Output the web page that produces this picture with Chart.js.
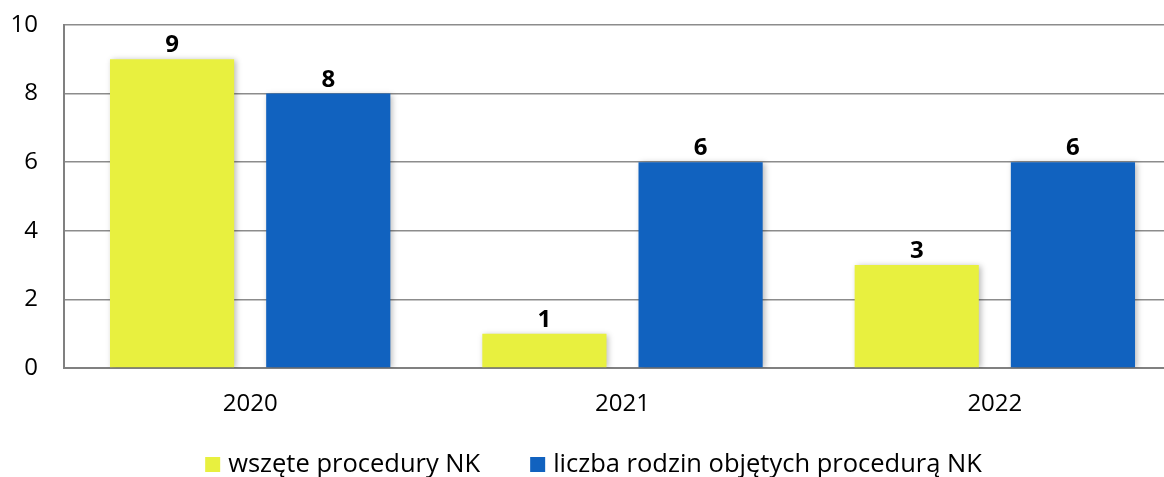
<!DOCTYPE html>
<html>
<head>
<meta charset="utf-8">
<script src="https://cdn.jsdelivr.net/npm/chart.js@4/dist/chart.umd.min.js"></script>
<style>
  html, body { margin: 0; padding: 0; background: #fff; overflow: hidden; }
  #wrap { width: 1164px; height: 477px; overflow: hidden; }
  #box { width: 1190px; height: 477px; position: relative; }
</style>
</head>
<body>
<div id="wrap"><div id="box"><canvas id="chart"></canvas></div></div>
<script>
const years = ['2020', '2021', '2022'];
const proceduresStarted = [9, 1, 3];
const familiesCovered = [8, 6, 6];
const seriesNames = ['wszęte procedury NK', 'liczba rodzin objętych procedurą NK'];
const yTicks = [0, 2, 4, 6, 8, 10];

const FONT = '"Open Sans", "Noto Sans", sans-serif';

// values above the bars
const valueLabels = {
  id: 'valueLabels',
  afterDatasetsDraw(chart) {
    const ctx = chart.ctx;
    ctx.save();
    ctx.font = 'bold 24px ' + FONT;
    ctx.fillStyle = '#000';
    ctx.textAlign = 'center';
    ctx.textBaseline = 'alphabetic';
    chart.data.datasets.forEach((ds, i) => {
      chart.getDatasetMeta(i).data.forEach((bar, j) => {
        ctx.fillText(ds.data[j], bar.x, bar.y - 7);
      });
    });
    ctx.restore();
  }
};

// soft shadow round the bars
const barShadow = {
  id: 'barShadow',
  beforeDatasetsDraw(chart) {
    const ctx = chart.ctx;
    ctx.save();
    ctx.shadowColor = 'rgba(0,0,0,0.28)';
    ctx.shadowBlur = 6;
    ctx.shadowOffsetX = 2;
    ctx.shadowOffsetY = 1;
  },
  afterDatasetsDraw(chart) {
    chart.ctx.restore();
  }
};

// legend drawn by hand: the built-in one ties row height to item spacing
const bottomLegend = {
  id: 'bottomLegend',
  afterDraw(chart) {
    const ctx = chart.ctx;
    const box = 15, gap = 8, spacing = 50, cy = 464.5;
    ctx.save();
    ctx.font = '25.5px ' + FONT;
    ctx.textBaseline = 'middle';
    const items = chart.data.datasets.map(ds => ({
      text: ds.label, color: ds.backgroundColor, w: ctx.measureText(ds.label).width
    }));
    const total = items.reduce((s, it) => s + box + gap + it.w, 0) + spacing * (items.length - 1);
    let x = 593.5 - total / 2;
    items.forEach(it => {
      ctx.fillStyle = it.color;
      ctx.fillRect(x, cy - box / 2, box, box);
      ctx.fillStyle = '#000';
      ctx.fillText(it.text, x + box + gap, cy);
      x += box + gap + it.w + spacing;
    });
    ctx.restore();
  }
};

new Chart(document.getElementById('chart'), {
  type: 'bar',
  data: {
    labels: years,
    datasets: [
      {
        label: seriesNames[0],
        data: proceduresStarted,
        backgroundColor: '#E8F03F',
        barPercentage: 0.795,
        categoryPercentage: 0.839,
      },
      {
        label: seriesNames[1],
        data: familiesCovered,
        backgroundColor: '#1162BF',
        barPercentage: 0.795,
        categoryPercentage: 0.839,
      },
    ],
  },
  options: {
    responsive: true,
    maintainAspectRatio: false,
    animation: false,
    layout: { padding: { top: 25, right: 9, left: 0, bottom: 53 } },
    plugins: {
      tooltip: { enabled: false },
      legend: { display: false },
    },
    scales: {
      x: {
        grid: { display: false, drawTicks: false },
        border: { color: '#808080', width: 2 },
        ticks: { color: '#000', font: { family: FONT, size: 24 }, padding: 22 },
        afterFit(scale) {
          scale.height = 56;
          scale.paddingLeft = 0;
          scale.paddingRight = 0;
        },
      },
      y: {
        min: 0,
        max: 10,
        afterBuildTicks(scale) { scale.ticks = yTicks.map(v => ({ value: v })); },
        grid: { color: '#8c8c8c', lineWidth: 1.5, drawTicks: false },
        border: { color: '#808080', width: 2 },
        ticks: { color: '#000', font: { family: FONT, size: 24 }, padding: 26 },
        afterFit(scale) {
          scale.width = 64;
          scale.paddingTop = 0;
          scale.paddingBottom = 0;
        },
      },
    },
  },
  plugins: [barShadow, valueLabels, bottomLegend],
});
</script>
</body>
</html>
